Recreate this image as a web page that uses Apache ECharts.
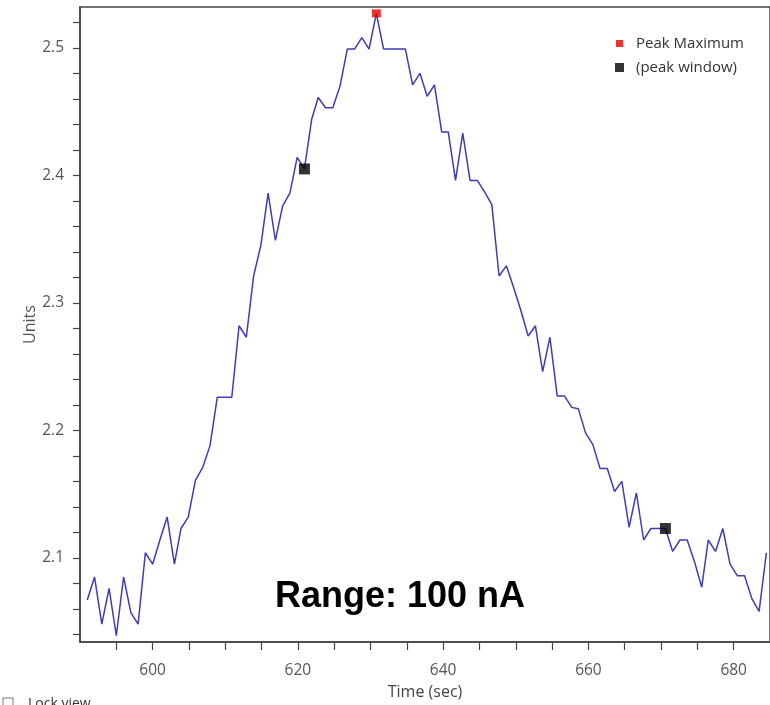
<!DOCTYPE html>
<html>
<head>
<meta charset="utf-8">
<script src="https://cdn.jsdelivr.net/npm/echarts@6/dist/echarts.min.js"></script>
<style>
  html, body { margin: 0; padding: 0; background: #fff; }
  #chart { width: 770px; height: 705px; }
</style>
</head>
<body>
<div id="chart"></div>
<script>
// Sample times (sec)
const times = [
  591.0, 592.0, 593.0, 594.0, 595.0, 596.0, 597.0, 598.0, 599.0, 600.0,
  601.0, 602.0, 603.0, 603.9, 604.9, 605.9, 606.9, 607.9, 608.9, 609.9,
  610.9, 611.9, 612.9, 613.9, 614.9, 615.9, 616.9, 617.9, 618.9, 619.9,
  620.9, 621.9, 622.8, 623.8, 624.8, 625.8, 626.8, 627.8, 628.8, 629.8,
  630.8, 631.8, 632.8, 633.8, 634.8, 635.8, 636.8, 637.8, 638.8, 639.8,
  640.7, 641.7, 642.7, 643.7, 644.7, 645.7, 646.7, 647.7, 648.7, 649.7,
  650.7, 651.7, 652.7, 653.7, 654.7, 655.7, 656.7, 657.7, 658.6, 659.6,
  660.6, 661.6, 662.6, 663.6, 664.6, 665.6, 666.6, 667.6, 668.6, 669.6,
  670.6, 671.6, 672.6, 673.6, 674.6, 675.6, 676.5, 677.5, 678.5, 679.5,
  680.5, 681.5, 682.5, 683.5, 684.5
];
// Signal values (Units)
const units = [
  2.067, 2.085, 2.048, 2.076, 2.039, 2.085, 2.057, 2.048, 2.104, 2.095,
  2.114, 2.132, 2.095, 2.123, 2.132, 2.161, 2.171, 2.188, 2.226, 2.226,
  2.226, 2.282, 2.273, 2.321, 2.345, 2.386, 2.349, 2.376, 2.386, 2.414,
  2.405, 2.444, 2.461, 2.453, 2.453, 2.470, 2.499, 2.499, 2.508, 2.499,
  2.527, 2.499, 2.499, 2.499, 2.499, 2.471, 2.480, 2.462, 2.471, 2.434,
  2.434, 2.396, 2.433, 2.396, 2.396, 2.387, 2.377, 2.321, 2.329, 2.312,
  2.294, 2.274, 2.282, 2.246, 2.273, 2.227, 2.227, 2.218, 2.217, 2.198,
  2.189, 2.170, 2.170, 2.152, 2.160, 2.124, 2.151, 2.114, 2.123, 2.123,
  2.123, 2.105, 2.114, 2.114, 2.097, 2.077, 2.114, 2.105, 2.123, 2.095,
  2.086, 2.086, 2.068, 2.058, 2.104
];
// Peak markers
const peakMaxTimes = [630.8];
const peakMaxValues = [2.527];
const peakWindowTimes = [620.9, 670.6];
const peakWindowValues = [2.405, 2.123];

// Axis ticks and labels
const xLabelValues = [600, 620, 640, 660, 680];
const xTickValues = [595, 600, 605, 610, 615, 620, 625, 630, 635, 640, 645, 650, 655, 660, 665, 670, 675, 680];
const yLabelValues = [2.1, 2.2, 2.3, 2.4, 2.5];
const yTickValues = [2.04, 2.06, 2.08, 2.1, 2.12, 2.14, 2.16, 2.18, 2.2, 2.22, 2.24, 2.26, 2.28, 2.3, 2.32, 2.34, 2.36, 2.38, 2.4, 2.42, 2.44, 2.46, 2.48, 2.5, 2.52];

const lineData = times.map((t, i) => [t, units[i]]);
const peakMaxData = peakMaxTimes.map((t, i) => [t, peakMaxValues[i]]);
const peakWindowData = peakWindowTimes.map((t, i) => [t, peakWindowValues[i]]);

const FONT = '"Open Sans", "Noto Sans", sans-serif';
const chart = echarts.init(document.getElementById('chart'), null, { renderer: 'canvas' });

chart.setOption({
  animation: false,
  backgroundColor: '#ffffff',
  grid: {
    left: 80, top: 7, width: 692, height: 636,
    show: true, borderColor: '#444', borderWidth: 1.5, backgroundColor: 'transparent'
  },
  legend: [
    {
      data: ['Peak Maximum'],
      orient: 'vertical', left: 616, top: 35, padding: 0,
      icon: 'rect', itemWidth: 7, itemHeight: 7,
      textStyle: { fontFamily: FONT, fontSize: 15, color: '#333', lineHeight: 17, padding: [0, 0, 0, 8] }
    },
    {
      data: ['(peak window)'],
      orient: 'vertical', left: 615, top: 59, padding: 0,
      icon: 'rect', itemWidth: 9, itemHeight: 9,
      textStyle: { fontFamily: FONT, fontSize: 15, color: '#333', lineHeight: 17, padding: [0, 0, 0, 7] }
    }
  ],
  xAxis: {
    type: 'value', min: 590, max: 685,
    name: 'Time (sec)', nameLocation: 'middle', nameGap: 42, nameMoveOverlap: false,
    nameTextStyle: { fontFamily: FONT, fontSize: 16, color: '#444' },
    axisLine: { show: true, lineStyle: { color: '#444', width: 1.5 } },
    axisTick: { show: true, length: 8, customValues: xTickValues, lineStyle: { color: '#444', width: 1.2 } },
    axisLabel: { customValues: xLabelValues, margin: 21, fontFamily: FONT, fontSize: 15.5, color: '#555' },
    splitLine: { show: false }
  },
  yAxis: {
    type: 'value', min: 2.034, max: 2.532,
    name: 'Units', nameLocation: 'middle', nameGap: 42, nameMoveOverlap: false,
    nameTextStyle: { fontFamily: FONT, fontSize: 16, color: '#555' },
    axisLine: { show: true, lineStyle: { color: '#444', width: 1.5 } },
    axisTick: { show: true, length: 7, customValues: yTickValues, lineStyle: { color: '#444', width: 1.2 } },
    axisLabel: { customValues: yLabelValues, margin: 16, fontFamily: FONT, fontSize: 15.5, color: '#555',
      formatter: v => v.toFixed(1) },
    splitLine: { show: false }
  },
  series: [
    {
      name: 'signal', type: 'line', data: lineData,
      showSymbol: false, symbol: 'none',
      lineStyle: { color: '#3d3db5', width: 1.5 },
      z: 2
    },
    {
      name: 'Peak Maximum', type: 'scatter', data: peakMaxData,
      symbol: 'rect', symbolSize: [9, 8],
      itemStyle: { color: '#e80000' }, z: 5
    },
    {
      name: '(peak window)', type: 'scatter', data: peakWindowData,
      symbol: 'rect', symbolSize: [11, 11],
      itemStyle: { color: '#000000' }, z: 5
    }
  ],
  graphic: [
    {
      type: 'text', x: 400, y: 597, z: 10,
      style: { text: 'Range: 100 nA', textAlign: 'center', textVerticalAlign: 'middle',
        font: 'bold 36px "Liberation Sans", Arial, sans-serif', fill: '#000' }
    },
    {
      type: 'rect', shape: { x: 3, y: 698, width: 10, height: 10 },
      style: { fill: '#fff', stroke: '#777', lineWidth: 1 }
    },
    {
      type: 'text', x: 28, y: 697,
      style: { text: 'Lock view', font: '14px "Open Sans", sans-serif', fill: '#333', textVerticalAlign: 'top' }
    }
  ]
});
</script>
</body>
</html>
